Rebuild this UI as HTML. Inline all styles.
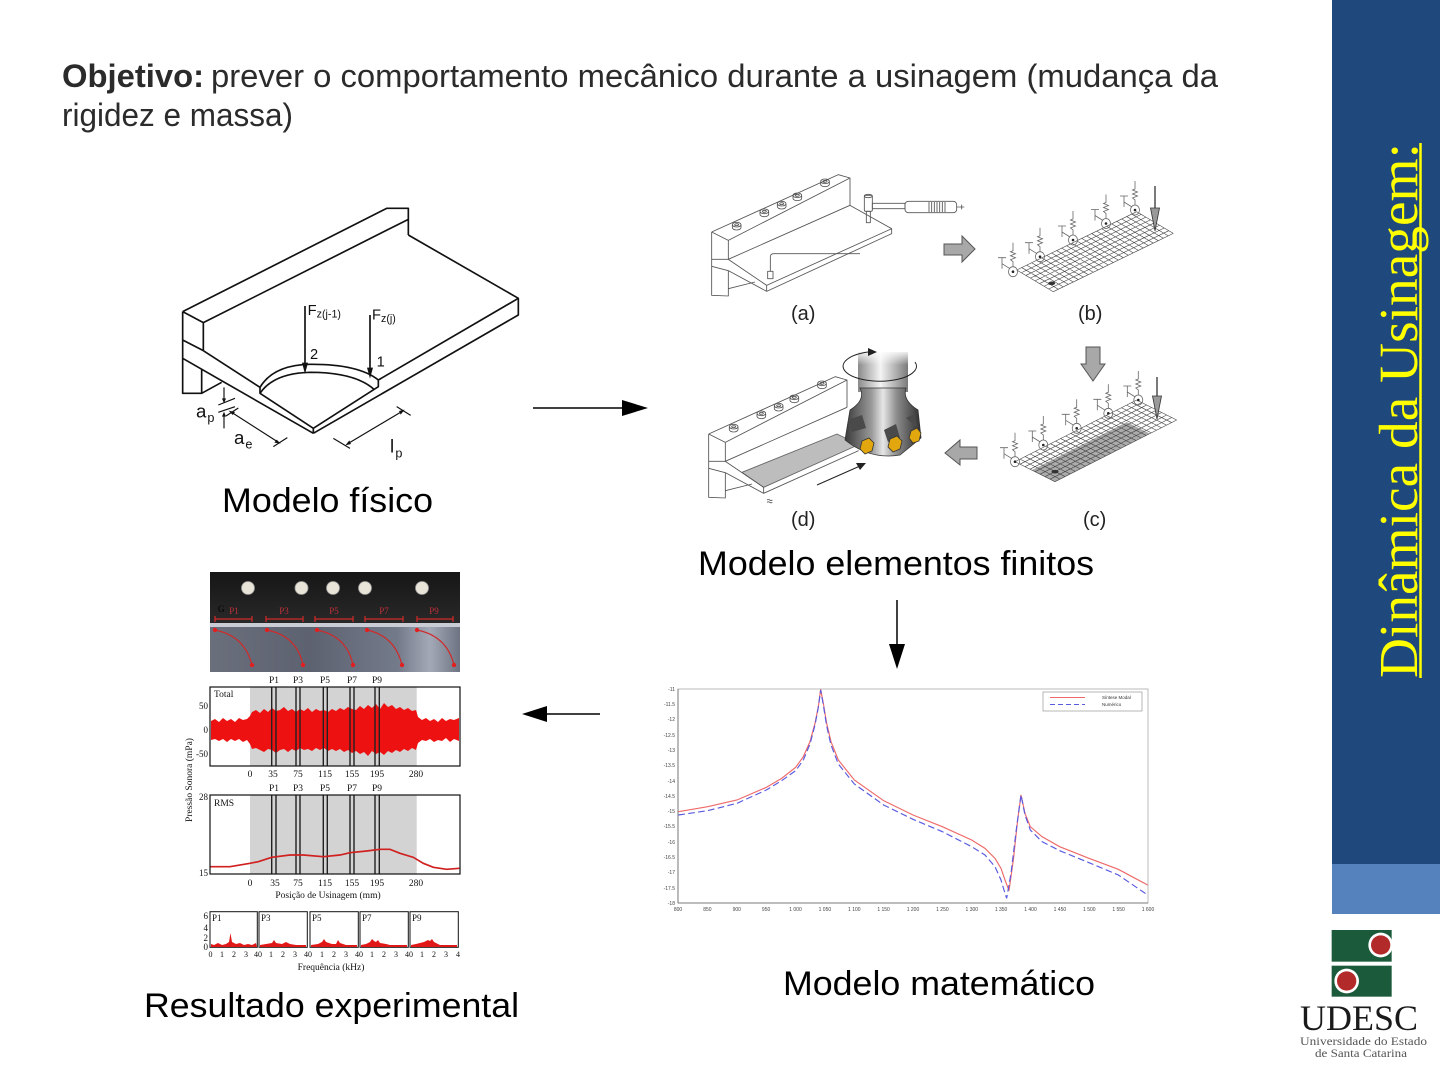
<!DOCTYPE html>
<html><head><meta charset="utf-8">
<style>
html,body{margin:0;padding:0;background:#fff;}
svg{display:block;}
</style></head>
<body>
<svg width="1440" height="1080" viewBox="0 0 1440 1080" xmlns="http://www.w3.org/2000/svg">
<defs>
  <linearGradient id="metal" x1="0" y1="0" x2="1" y2="0">
    <stop offset="0" stop-color="#3a3a3a"/>
    <stop offset="0.35" stop-color="#9a9a9a"/>
    <stop offset="0.5" stop-color="#e6e6e6"/>
    <stop offset="0.68" stop-color="#8c8c8c"/>
    <stop offset="1" stop-color="#2e2e2e"/>
  </linearGradient>
  <linearGradient id="shank" x1="0" y1="0" x2="1" y2="0">
    <stop offset="0" stop-color="#8a8a8a"/>
    <stop offset="0.45" stop-color="#f4f4f4"/>
    <stop offset="1" stop-color="#7a7a7a"/>
  </linearGradient>
  <linearGradient id="shankFade" x1="0" y1="0" x2="0" y2="1">
    <stop offset="0" stop-color="#fff" stop-opacity="1"/>
    <stop offset="0.6" stop-color="#fff" stop-opacity="0"/>
  </linearGradient>
  <linearGradient id="photoMetal" x1="0" y1="0" x2="1" y2="0">
    <stop offset="0" stop-color="#6a6f7c"/>
    <stop offset="0.4" stop-color="#5d6270"/>
    <stop offset="0.75" stop-color="#737a8a"/>
    <stop offset="0.88" stop-color="#a3a9b6"/>
    <stop offset="1" stop-color="#6d7382"/>
  </linearGradient>
  <linearGradient id="photoDark" x1="0" y1="0" x2="0" y2="1">
    <stop offset="0" stop-color="#161616"/>
    <stop offset="1" stop-color="#2a2a2a"/>
  </linearGradient>
  <g id="bolt">
    <path d="M-13,0 A13,7 0 1 1 13,0 A13,7 0 1 1 -13,0 M-13,0 V9 A13,7 0 0 0 13,9 V0 M-6,0 A6,3 0 1 1 6,0 A6,3 0 1 1 -6,0"/>
  </g>
  <g id="sp" fill="none" stroke="#666" stroke-width="0.8">
    <ellipse cx="0" cy="0" rx="4.5" ry="5"/>
    <circle cx="0" cy="0" r="1.3" fill="#222" stroke="none"/>
    <path d="M0,-5V-10L-2.5,-12L2.5,-14L-2.5,-16L2.5,-18L-2.5,-20L0,-21V-29"/>
    <path d="M-3,-3L-11,-8M-11,-14V-3M-15,-14H-7"/>
  </g>
</defs>
<rect width="1440" height="1080" fill="#fff"/>

<!-- Title -->
<text x="62" y="87" font-family="Liberation Sans, sans-serif" font-weight="bold" font-size="32" fill="#2b2b2b" textLength="142" lengthAdjust="spacingAndGlyphs">Objetivo:</text>
<text x="211" y="87" font-family="Liberation Sans, sans-serif" font-size="32" fill="#2b2b2b" textLength="1007" lengthAdjust="spacingAndGlyphs">prever o comportamento mecânico durante a usinagem (mudança da</text>
<text x="62" y="126" font-family="Liberation Sans, sans-serif" font-size="32" fill="#2b2b2b" textLength="231" lengthAdjust="spacingAndGlyphs">rigidez e massa)</text>

<!-- Sidebar -->
<rect x="1332" y="0" width="108" height="864" fill="#1F497D"/>
<rect x="1332" y="864" width="108" height="50" fill="#5581BD"/>
<text transform="translate(1417,678) rotate(-90)" font-family="Liberation Serif, serif" font-size="55" fill="#FFFF00" textLength="535" lengthAdjust="spacingAndGlyphs">Dinâmica da Usinagem:</text>
<line x1="1420.5" y1="143" x2="1420.5" y2="678" stroke="#FFFF00" stroke-width="2.5"/>

<!-- Logo -->
<g transform="translate(1290,915) scale(0.33333)">
  <rect x="125" y="45" width="180" height="95" fill="#1B5A3A"/>
  <circle cx="272" cy="90" r="37" fill="#fff"/>
  <circle cx="272" cy="90" r="29" fill="#B32A2A"/>
  <rect x="125" y="152" width="180" height="93" fill="#1B5A3A"/>
  <circle cx="170" cy="198" r="37" fill="#fff"/>
  <circle cx="170" cy="198" r="29" fill="#B32A2A"/>
</g>
<text x="1300" y="1030" font-family="Liberation Serif, serif" font-size="36" fill="#1a1a1a" textLength="118" lengthAdjust="spacingAndGlyphs">UDESC</text>
<text x="1300" y="1045" font-family="Liberation Serif, serif" font-size="11.5" fill="#555" textLength="127" lengthAdjust="spacingAndGlyphs">Universidade do Estado</text>
<text x="1315" y="1057" font-family="Liberation Serif, serif" font-size="11.5" fill="#555" textLength="92" lengthAdjust="spacingAndGlyphs">de Santa Catarina</text>

<!-- Physical model -->
<g transform="translate(170,180) scale(0.33333)" fill="none" stroke="#111" stroke-width="5" stroke-linejoin="round">
  <path d="M38,395 L650,85 L715,85 L715,165 M100,428 L715,118 M38,395 L100,428 L100,512 M38,480 L100,512 M38,395 V640 H95 V567 M95,640 L155,607 M38,535 L430,760"/>
  <path d="M100,512 L270,622 V640 L430,745 V760 M430,745 L625,620 V600 L1045,355 V405 L430,760 M1045,355 L715,165"/>
  <path d="M270,622 Q310,555 420,553 Q565,552 625,600 M270,640 Q310,580 420,577 Q555,577 612,628"/>
  <path d="M405,378 V555 M600,405 V570"/>
  <polygon points="396,548 414,548 405,582" fill="#111" stroke="none"/>
  <polygon points="591,563 609,563 600,596" fill="#111" stroke="none"/>
  <path d="M162,622 V660 M162,745 V705 M145,675 L195,655 M145,697 L195,680" stroke-width="3.5"/>
  <polygon points="156,655 168,655 162,670" fill="#111" stroke="none"/>
  <polygon points="156,710 168,710 162,695" fill="#111" stroke="none"/>
  <path d="M185,697 L322,785 M168,708 L205,684 M310,800 L352,773" stroke-width="3.5"/>
  <polygon points="176,692 195,696 188,705" fill="#111" stroke="none"/>
  <polygon points="332,791 313,788 320,779" fill="#111" stroke="none"/>
  <path d="M535,790 L695,695 M490,775 L540,805 M680,680 L722,706" stroke-width="3.5"/>
  <polygon points="526,796 538,781 543,792" fill="#111" stroke="none"/>
  <polygon points="704,689 692,704 687,693" fill="#111" stroke="none"/>
  <g fill="#111" stroke="none" font-family="Liberation Sans, sans-serif">
    <text x="413" y="405" font-size="44">F</text>
    <text x="440" y="413" font-size="32">z(j-1)</text>
    <text x="606" y="418" font-size="44">F</text>
    <text x="633" y="426" font-size="32">z(j)</text>
    <text x="420" y="537" font-size="44">2</text>
    <text x="620" y="560" font-size="44">1</text>
    <text x="78" y="712" font-size="56">a</text>
    <text x="112" y="726" font-size="38">p</text>
    <text x="192" y="792" font-size="56">a</text>
    <text x="226" y="806" font-size="38">e</text>
    <text x="660" y="818" font-size="56">l</text>
    <text x="676" y="832" font-size="38">p</text>
  </g>
</g>
<text x="222" y="512" font-family="Liberation Sans, sans-serif" font-size="34" fill="#000" textLength="211" lengthAdjust="spacingAndGlyphs">Modelo físico</text>

<!-- Arrows -->
<line x1="533" y1="408" x2="626" y2="408" stroke="#000" stroke-width="1.5"/>
<polygon points="622,400 648,408 622,416" fill="#000"/>
<line x1="897" y1="600" x2="897" y2="648" stroke="#000" stroke-width="1.5"/>
<polygon points="889,644 897,669 905,644" fill="#000"/>
<line x1="600" y1="714" x2="544" y2="714" stroke="#000" stroke-width="1.5"/>
<polygon points="547,706 522,714 547,722" fill="#000"/>

<!-- FE (a) -->
<g transform="translate(705,172) scale(0.33333)" fill="none" stroke="#555" stroke-width="2.6" stroke-linejoin="round">
  <path d="M20,180 L400,8 L435,18 L435,100 M20,180 L70,205 L435,18 M70,205 V262 M20,180 V370 L70,372 V296 M70,350 L150,330 M20,262 H70 M20,283 L70,296 L185,358 M70,262 L185,340 V358 L560,185 V170 L435,100 M70,262 L435,100 M185,340 L560,170"/>
  <use href="#bolt" x="95" y="158"/>
  <use href="#bolt" x="178" y="118"/>
  <use href="#bolt" x="230" y="95"/>
  <use href="#bolt" x="277" y="70"/>
  <use href="#bolt" x="360" y="28"/>
  <rect x="188" y="298" width="16" height="22"/>
  <path d="M196,298 V255 Q196,245 206,245 H465"/>
  <rect x="478" y="70" width="24" height="48" rx="4"/>
  <ellipse cx="490" cy="72" rx="12" ry="5"/>
  <rect x="484" y="118" width="12" height="34"/>
  <rect x="502" y="94" width="98" height="16"/>
  <rect x="600" y="88" width="155" height="34" rx="10"/>
  <path d="M672,90V120M680,90V120M688,90V120M696,90V120M704,90V120M712,90V120M720,90V120M755,105H778M770,98V112"/>
</g>
<polygon points="944,244 962,244 962,236 975,249 962,262 962,255 944,255" fill="#a8a8a8" stroke="#555" stroke-width="1"/>

<!-- FE (b) grid -->
<g transform="matrix(120,-58.3,36.6,21.7,1016.7,270)">
  <path d="M0,0V1M.0417,0V1M.0833,0V1M.125,0V1M.1667,0V1M.2083,0V1M.25,0V1M.2917,0V1M.3333,0V1M.375,0V1M.4167,0V1M.4583,0V1M.5,0V1M.5417,0V1M.5833,0V1M.625,0V1M.6667,0V1M.7083,0V1M.75,0V1M.7917,0V1M.8333,0V1M.875,0V1M.9167,0V1M.9583,0V1M1,0V1M0,0H1M0,.125H1M0,.25H1M0,.375H1M0,.5H1M0,.625H1M0,.75H1M0,.875H1M0,1H1" fill="none" stroke="#444" stroke-width="0.6" vector-effect="non-scaling-stroke"/>
</g>
<ellipse cx="1051.7" cy="283.3" rx="3.5" ry="1.8" fill="#333"/>
<use href="#sp" x="1013" y="271.7"/>
<use href="#sp" x="1040" y="256.7"/>
<use href="#sp" x="1073" y="240"/>
<use href="#sp" x="1106" y="223.5"/>
<use href="#sp" x="1135" y="210"/>
<line x1="1155" y1="186" x2="1155" y2="210" stroke="#222" stroke-width="1.2"/>
<polygon points="1150.5,208 1159.5,208 1155,231" fill="#999" stroke="#333" stroke-width="0.8"/>

<polygon points="1086,347 1100,347 1100,364 1105,364 1093,381 1081,364 1086,364" fill="#a8a8a8" stroke="#555" stroke-width="1"/>

<!-- FE (c) grid -->
<g transform="matrix(121.7,-61.7,40,20,1015,461.7)">
  <rect x="0" y="0.42" width="0.78" height="0.58" fill="#8f8f8f" opacity="0.75"/>
  <path d="M0,0V1M.0417,0V1M.0833,0V1M.125,0V1M.1667,0V1M.2083,0V1M.25,0V1M.2917,0V1M.3333,0V1M.375,0V1M.4167,0V1M.4583,0V1M.5,0V1M.5417,0V1M.5833,0V1M.625,0V1M.6667,0V1M.7083,0V1M.75,0V1M.7917,0V1M.8333,0V1M.875,0V1M.9167,0V1M.9583,0V1M1,0V1M0,0H1M0,.125H1M0,.25H1M0,.375H1M0,.5H1M0,.625H1M0,.75H1M0,.875H1M0,1H1" fill="none" stroke="#444" stroke-width="0.6" vector-effect="non-scaling-stroke"/>
</g>
<ellipse cx="1055" cy="471.7" rx="3.5" ry="1.8" fill="#333"/>
<use href="#sp" x="1015" y="461.7"/>
<use href="#sp" x="1043.3" y="445"/>
<use href="#sp" x="1076.7" y="428.3"/>
<use href="#sp" x="1108.3" y="413.3"/>
<use href="#sp" x="1138.3" y="400"/>
<line x1="1157" y1="377" x2="1157" y2="398" stroke="#222" stroke-width="1.2"/>
<polygon points="1152.5,396 1161.5,396 1157,419" fill="#999" stroke="#333" stroke-width="0.8"/>

<polygon points="945,453 960,440 960,447 977,447 977,459 960,459 960,465" fill="#a8a8a8" stroke="#555" stroke-width="1"/>

<!-- FE (d) -->
<g transform="translate(702,374) scale(0.33333)" fill="none" stroke="#555" stroke-width="2.6" stroke-linejoin="round">
  <polygon points="120,295 185,340 470,212 405,180" fill="#bdbdbd" stroke="#666"/>
  <path d="M20,180 L400,8 L435,18 L435,100 M20,180 L70,205 L435,18 M70,205 V262 M20,180 V370 L70,372 V296 M70,350 L150,330 M20,262 H70 M20,283 L70,296 L185,358 M70,262 L185,340 V358 L470,230 M70,262 L435,100"/>
  <use href="#bolt" x="95" y="158"/>
  <use href="#bolt" x="178" y="118"/>
  <use href="#bolt" x="230" y="95"/>
  <use href="#bolt" x="277" y="70"/>
  <use href="#bolt" x="360" y="28"/>
  <path d="M195,378 q4,-3 8,0 t8,0 M195,385 q4,-3 8,0 t8,0" stroke-width="2.5"/>
</g>
<!-- cutter -->
<rect x="858" y="352" width="50" height="40" fill="url(#shank)"/>
<rect x="858" y="350" width="50" height="25" fill="url(#shankFade)"/>
<path d="M860,388 Q866,400 850,410 L845,440 Q870,460 900,455 L921,438 L918,410 Q902,400 906,388 Z" fill="url(#metal)" stroke="#333" stroke-width="0.8"/>
<path d="M915,362 A36.7,15 0 1 1 868,352" fill="none" stroke="#222" stroke-width="1"/>
<polygon points="868,348 877,352 868,356" fill="#222"/>
<path d="M848,420 L862,415 L866,428 L852,432 Z M884,430 L896,424 L900,438 L888,442 Z M906,418 L914,414 L918,428 Z" fill="#4a4a4a"/>
<polygon points="862,441 869,438 874,443 872,451 865,454 860,449" fill="#E2A60E" stroke="#333" stroke-width="0.8"/>
<polygon points="890,439 897,436 902,441 900,449 893,452 888,447" fill="#E2A60E" stroke="#333" stroke-width="0.8"/>
<polygon points="911,431 917,428 921,433 919,441 913,443 909,438" fill="#E2A60E" stroke="#333" stroke-width="0.8"/>
<line x1="817" y1="485" x2="860" y2="466" stroke="#222" stroke-width="1"/>
<polygon points="866,463 856,463 860,470" fill="#222"/>

<g font-family="Liberation Sans, sans-serif" font-size="20" fill="#222">
  <text x="791" y="320">(a)</text>
  <text x="1078" y="320">(b)</text>
  <text x="791" y="526">(d)</text>
  <text x="1083" y="526">(c)</text>
</g>
<text x="698" y="575" font-family="Liberation Sans, sans-serif" font-size="34" fill="#000" textLength="396" lengthAdjust="spacingAndGlyphs">Modelo elementos finitos</text>

<!-- Math model plot -->
<rect x="678" y="689" width="470" height="214" fill="none" stroke="#aaa" stroke-width="0.8"/>
<line x1="678" y1="689" x2="678" y2="903" stroke="#666" stroke-width="0.8"/>
<line x1="678" y1="903" x2="1148" y2="903" stroke="#666" stroke-width="0.8"/>
<g transform="translate(655,680) scale(0.33333)" fill="none" stroke-width="3.5">
  <polyline stroke="#ee6a6a" points="70,395 158,380 246,360 334,322 380,295 422,262 445,230 465,185 480,130 490,80 497,28 505,70 515,130 528,185 550,240 598,300 686,362 774,405 862,440 950,480 990,505 1020,535 1038,565 1050,600 1062,632 1075,540 1088,420 1098,345 1110,400 1126,440 1161,470 1214,500 1302,535 1390,568 1478,615"/>
  <polyline stroke="#5a5ae0" stroke-dasharray="20,10" points="70,405 158,392 246,370 334,330 380,302 422,272 445,240 465,192 480,135 490,82 497,30 505,75 515,138 528,195 550,252 598,312 686,375 774,418 862,455 950,500 990,525 1020,560 1038,600 1050,640 1055,655 1068,580 1085,440 1098,345 1110,405 1126,450 1161,485 1214,512 1302,548 1390,585 1478,645"/>
</g>
<rect x="1043" y="692" width="99" height="19" fill="#fff" stroke="#888" stroke-width="0.6"/>
<line x1="1050" y1="697.5" x2="1085" y2="697.5" stroke="#ee6a6a" stroke-width="1"/>
<line x1="1050" y1="704.5" x2="1085" y2="704.5" stroke="#5a5ae0" stroke-width="1" stroke-dasharray="5,3"/>
<g font-family="Liberation Sans, sans-serif" font-size="4.5" fill="#333">
  <text x="1102" y="699">Síntese Modal</text>
  <text x="1102" y="706">Numérico</text>
</g>
<g font-family="Liberation Sans, sans-serif" font-size="5" fill="#444" text-anchor="end">
  <text x="675" y="691">-11</text>
  <text x="675" y="706">-11.5</text>
  <text x="675" y="721">-12</text>
  <text x="675" y="737">-12.5</text>
  <text x="675" y="752">-13</text>
  <text x="675" y="767">-13.5</text>
  <text x="675" y="783">-14</text>
  <text x="675" y="798">-14.5</text>
  <text x="675" y="813">-15</text>
  <text x="675" y="828">-15.5</text>
  <text x="675" y="844">-16</text>
  <text x="675" y="859">-16.5</text>
  <text x="675" y="874">-17</text>
  <text x="675" y="890">-17.5</text>
  <text x="675" y="905">-18</text>
</g>
<g font-family="Liberation Sans, sans-serif" font-size="5" fill="#444" text-anchor="middle">
  <text x="678" y="911">800</text><text x="707.4" y="911">850</text><text x="736.8" y="911">900</text><text x="766.1" y="911">950</text>
  <text x="795.5" y="911">1 000</text><text x="824.9" y="911">1 050</text><text x="854.3" y="911">1 100</text><text x="883.6" y="911">1 150</text>
  <text x="913" y="911">1 200</text><text x="942.4" y="911">1 250</text><text x="971.8" y="911">1 300</text><text x="1001.1" y="911">1 350</text>
  <text x="1030.5" y="911">1 400</text><text x="1059.9" y="911">1 450</text><text x="1089.3" y="911">1 500</text><text x="1118.6" y="911">1 550</text>
  <text x="1148" y="911">1 600</text>
</g>
<text x="783" y="995" font-family="Liberation Sans, sans-serif" font-size="34" fill="#000" textLength="312" lengthAdjust="spacingAndGlyphs">Modelo matemático</text>

<!-- Experimental: photo -->
<rect x="210" y="572" width="250" height="55" fill="url(#photoDark)"/>
<rect x="210" y="625" width="250" height="47" fill="url(#photoMetal)"/>
<rect x="210" y="623" width="250" height="4" fill="#c9ccd4"/>
<g fill="#e8e4d8" stroke="#999" stroke-width="0.8">
  <circle cx="248" cy="588" r="6.5"/>
  <circle cx="301.5" cy="588" r="6.5"/>
  <circle cx="333" cy="588" r="6.5"/>
  <circle cx="365" cy="588" r="6.5"/>
  <circle cx="422" cy="588" r="6.5"/>
</g>
<g font-family="Liberation Serif, serif" font-size="9" fill="#c0303a" text-anchor="middle">
  <text x="234" y="614">P1</text><text x="284" y="614">P3</text><text x="334" y="614">P5</text><text x="384" y="614">P7</text><text x="434" y="614">P9</text>
</g>
<text x="218" y="612" font-family="Liberation Serif, serif" font-size="9" fill="#000">G</text>
<g stroke="#d02a2a" stroke-width="1.2" fill="none">
  <path d="M215,619H252M215,616V622M252,616V622 M266,619H303M266,616V622M303,616V622 M315,619H353M315,616V622M353,616V622 M365,619H403M365,616V622M403,616V622 M417,619H453M417,616V622M453,616V622"/>
  <path d="M215,630 Q245,636 252,665 M267,630 Q297,636 303,665 M317,630 Q347,636 353,665 M367,630 Q395,636 402,665 M417,630 Q447,636 454,665"/>
</g>
<g fill="#e02020">
  <circle cx="215" cy="630" r="2.2"/><circle cx="267" cy="630" r="2.2"/><circle cx="317" cy="630" r="2.2"/><circle cx="367" cy="630" r="2.2"/><circle cx="417" cy="630" r="2.2"/>
  <circle cx="252" cy="665" r="2.2"/><circle cx="303" cy="665" r="2.2"/><circle cx="353" cy="665" r="2.2"/><circle cx="402" cy="665" r="2.2"/><circle cx="454" cy="665" r="2.2"/>
</g>

<!-- Total plot -->
<rect x="250" y="687" width="166.7" height="79" fill="#d3d3d3"/>
<polygon fill="#ee1111" points="211,721 215,719 219,722 223,718 227,721 231,719 235,722 239,718 243,720 247,719 250,716 252,712 256,710 260,713 264,709 268,712 272,708 276,711 280,710 284,707 288,711 292,709 296,712 300,709 304,711 308,708 312,712 316,709 320,711 324,710 328,712 332,709 336,711 340,708 344,710 348,707 352,709 356,710 360,706 364,709 368,705 372,708 376,704 380,709 384,703 388,707 392,705 396,709 400,707 404,710 408,708 412,711 416,710 418,717 422,720 426,718 430,721 434,719 438,722 442,718 446,721 450,719 454,720 459,718 459,741 454,739 450,742 446,738 442,741 438,740 434,742 430,739 426,741 422,740 418,743 416,750 412,748 408,751 404,749 400,752 396,750 392,753 388,751 384,755 380,752 376,754 372,751 368,756 364,752 360,754 356,751 352,753 348,750 344,752 340,749 336,751 332,749 328,751 324,748 320,750 316,748 312,751 308,749 304,750 300,748 296,751 292,749 288,752 284,749 280,750 276,753 272,750 268,749 264,752 260,750 256,748 252,749 250,744 247,740 243,742 239,739 235,741 231,739 227,742 223,739 219,741 215,739 211,740"/>
<rect x="250" y="795" width="166.7" height="79" fill="#d3d3d3"/>
<g stroke="#222" stroke-width="1.4">
  <path d="M271.7,687V766M276,687V766M296,687V766M300,687V766M323.3,687V766M327.3,687V766M350,687V766M354,687V766M375,687V766M379.3,687V766"/>
  <path d="M271.7,795V874M276,795V874M296,795V874M300,795V874M323.3,795V874M327.3,795V874M350,795V874M354,795V874M375,795V874M379.3,795V874"/>
</g>
<rect x="210" y="687" width="250" height="79" fill="none" stroke="#111" stroke-width="1.2"/>
<g font-family="Liberation Serif, serif" font-size="9.5" fill="#111" text-anchor="middle">
  <text x="274" y="683">P1</text><text x="298" y="683">P3</text><text x="325" y="683">P5</text><text x="352" y="683">P7</text><text x="377" y="683">P9</text>
  <text x="250" y="777">0</text><text x="273" y="777">35</text><text x="298" y="777">75</text><text x="325" y="777">115</text><text x="352" y="777">155</text><text x="377" y="777">195</text><text x="416" y="777">280</text>
  <text x="274" y="791">P1</text><text x="298" y="791">P3</text><text x="325" y="791">P5</text><text x="352" y="791">P7</text><text x="377" y="791">P9</text>
  <text x="250" y="886">0</text><text x="275" y="886">35</text><text x="298" y="886">75</text><text x="325" y="886">115</text><text x="352" y="886">155</text><text x="377" y="886">195</text><text x="416" y="886">280</text>
  <text x="328" y="898">Posição de Usinagem (mm)</text>
  <text x="331" y="970">Frequência (kHz)</text>
</g>
<g font-family="Liberation Serif, serif" font-size="9" fill="#111" text-anchor="end">
  <text x="208" y="709">50</text><text x="208" y="733">0</text><text x="208" y="757">-50</text>
  <text x="208" y="800">28</text><text x="208" y="876">15</text>
  <text x="208" y="919">6</text><text x="208" y="931">4</text><text x="208" y="941">2</text><text x="208" y="950">0</text>
</g>
<text x="214" y="697" font-family="Liberation Serif, serif" font-size="9.5" fill="#111">Total</text>
<text transform="translate(192,780) rotate(-90)" font-family="Liberation Serif, serif" font-size="9.5" fill="#111" text-anchor="middle">Pressão Sonora (mPa)</text>

<!-- RMS plot -->
<g transform="translate(180,770) scale(0.33333)">
  <polyline fill="none" stroke="#d02020" stroke-width="5" points="90,290 150,290 210,280 235,275 275,262 330,255 370,255 430,260 480,255 510,248 560,243 600,238 630,238 660,250 700,262 730,280 760,292 800,298 838,295"/>
</g>
<rect x="210" y="795" width="250" height="79" fill="none" stroke="#111" stroke-width="1.2"/>
<text x="214" y="806" font-family="Liberation Serif, serif" font-size="9.5" fill="#111">RMS</text>

<!-- Spectra -->
<g fill="none" stroke="#111" stroke-width="1">
  <rect x="210" y="911.7" width="47.3" height="35.6"/>
  <rect x="259" y="911.7" width="48.3" height="35.6"/>
  <rect x="310" y="911.7" width="48.3" height="35.6"/>
  <rect x="360" y="911.7" width="48.3" height="35.6"/>
  <rect x="410" y="911.7" width="48.3" height="35.6"/>
</g>
<g fill="#e01818">
  <polygon points="211,947 211,944 214,945 218,943 222,945 226,944 229,942 230.5,933 232,942 236,944 240,943 244,945 248,944 252,945 256,943 257,947"/>
  <polygon points="260,947 260,945 266,944 272,943 274,940 276,943 282,944 286,942 290,944 296,945 306,945 306,947"/>
  <polygon points="311,947 311,945 318,944 322,942 324,939 326,942 332,944 336,944 338,940 340,943 346,945 357,945 357,947"/>
  <polygon points="361,947 361,945 366,944 370,942 372,939 374,941 376,942 378,940 380,943 386,944 390,945 407,945 407,947"/>
  <polygon points="411,947 411,945 416,944 420,943 424,942 428,940 430,941 432,939 434,942 440,945 447,945 457,945 457,947"/>
</g>
<g font-family="Liberation Serif, serif" font-size="9" fill="#111">
  <text x="212" y="921">P1</text><text x="261" y="921">P3</text><text x="312" y="921">P5</text><text x="362" y="921">P7</text><text x="412" y="921">P9</text>
</g>
<g font-family="Liberation Serif, serif" font-size="8" fill="#111" text-anchor="middle">
  <text x="210.5" y="957">0</text><text x="222" y="957">1</text><text x="234" y="957">2</text><text x="246" y="957">3</text><text x="258" y="957">40</text>
  <text x="271" y="957">1</text><text x="283" y="957">2</text><text x="295" y="957">3</text><text x="308" y="957">40</text>
  <text x="322" y="957">1</text><text x="334" y="957">2</text><text x="346" y="957">3</text><text x="359" y="957">40</text>
  <text x="372" y="957">1</text><text x="384" y="957">2</text><text x="396" y="957">3</text><text x="409" y="957">40</text>
  <text x="422" y="957">1</text><text x="434" y="957">2</text><text x="446" y="957">3</text><text x="458" y="957">4</text>
</g>

<text x="144" y="1017" font-family="Liberation Sans, sans-serif" font-size="34" fill="#000" textLength="375" lengthAdjust="spacingAndGlyphs">Resultado experimental</text>
</svg>
</body></html>
